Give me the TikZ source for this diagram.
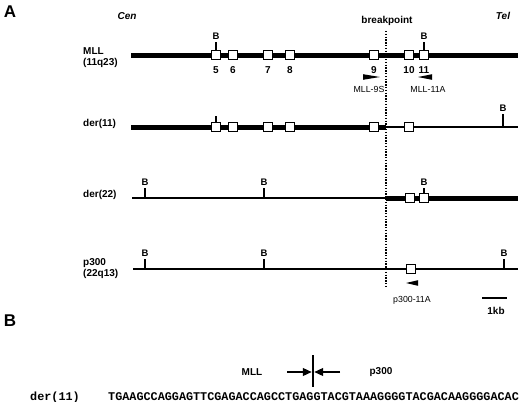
\documentclass[tikz,border=0pt]{standalone}
\usepackage{fontspec}
\setmainfont{Liberation Sans}
\setsansfont{Liberation Sans}
\setmonofont{Liberation Mono}
\usepackage{tikz}
\usetikzlibrary{arrows.meta,positioning}
\tikzset{
  gm diagram/.style={font=\sffamily\bfseries\fontsize{10}{11}\selectfont,
    x=1pt, y=-1pt, line cap=butt, line join=miter},
  gm thick/.style={line width=5pt},
  gm thin/.style={line width=2.2pt},
  gm exon/.style={draw, fill=white, line width=1.8pt, minimum size=9pt,
    inner sep=0pt},
  gm tick/.style={line width=2.2pt},
  gm site/.style={font=\sffamily\bfseries\fontsize{9.5}{10}\selectfont,
    inner sep=1pt, anchor=south},
  gm name/.style={align=left, anchor=west, inner sep=0pt},
  gm primer/.style={font=\sffamily\fontsize{8.8}{10}\selectfont},
  gm panel/.style={font=\sffamily\bfseries\fontsize{17}{18}\selectfont},
  gm break/.style={line width=2.2pt, dash pattern=on 1.4pt off 1.4pt},
  gm seq/.style={font=\ttfamily\bfseries\fontsize{11.8}{12}\selectfont,
    anchor=west, inner sep=0pt},
  gm junction/.style={line width=2.2pt, -{Triangle[length=9pt,width=7.5pt]}}
}

\begin{document}
\begin{tikzpicture}[gm diagram]
\useasboundingbox (0,0) rectangle (520,402);
% panel A: restriction maps
\node[gm panel] (panA) at (10,12) {A};
\node[font=\sffamily\bfseries\itshape\fontsize{10}{11}\selectfont] (cen) at (127,16) {Cen};
\node[font=\sffamily\bfseries\itshape\fontsize{10}{11}\selectfont] (tel) at (503,16) {Tel};
\node (bp) at (387,21) {breakpoint};
\coordinate (bpTop) at (386,31);
\coordinate (bpBot) at (386,288);

% MLL (11q23)
\node[gm name] (nMLL) at (83,58) {MLL\\(11q23)};
\coordinate (mllL) at (131,55);
\coordinate (mllR) at (518,55);
\draw[gm thick] (mllL) -- (mllR);

% der(11)
\node[gm name] (nDer11) at (83,124) {der(11)};
\coordinate (d11L) at (131,127);
\coordinate (d11M) at (386,127);
\coordinate (d11R) at (518,127);
\draw[gm thick] (d11L) -- (d11M);
\draw[gm thin] (d11M) -- (d11R);

% der(22)
\node[gm name] (nDer22) at (83,195) {der(22)};
\coordinate (d22L) at (132,198);
\coordinate (d22M) at (386,198);
\coordinate (d22R) at (518,198);
\draw[gm thin] (d22L) -- (d22M);
\draw[gm thick] (d22M) -- (d22R);

% p300 (22q13)
\node[gm name] (nP300) at (83,269) {p300\\(22q13)};
\coordinate (pL) at (133,269);
\coordinate (pR) at (518,269);
\draw[gm thin] (pL) -- (pR);

\draw[gm break] (bpTop) -- (bpBot);

% exons
\foreach \n/\x in {5/216,6/233,7/268,8/290,9/374,10/409,11/424} {
  \node[gm exon] (m\n) at (\x,55) {};
  \node (num\n) at (\x,70) {\n};
}
\foreach \n/\x in {5/216,6/233,7/268,8/290,9/374,10/409}
  \node[gm exon] (d\n) at (\x,127) {};
\foreach \n/\x in {10/410,11/424}
  \node[gm exon] (e\n) at (\x,198) {};
\node[gm exon] (p11) at (411,269) {};

% BamHI sites
\draw[gm tick] (m5.north) -- ++(0,-8) node[gm site] (bM1) {B};
\draw[gm tick] (m11.north) -- ++(0,-8) node[gm site] (bM2) {B};
\draw[gm tick] (d5.north) -- ++(0,-6);
\draw[gm tick] (503,127) -- ++(0,-13) node[gm site] (bD1) {B};
\draw[gm tick] (145,198) -- ++(0,-10) node[gm site] (bE1) {B};
\draw[gm tick] (264,198) -- ++(0,-10) node[gm site] (bE2) {B};
\draw[gm tick] (e11.north) -- ++(0,-5) node[gm site] (bE3) {B};
\foreach \x [count=\i] in {145,264,504}
  \draw[gm tick] (\x,269) -- ++(0,-10) node[gm site] (bP\i) {B};

% primers
\fill (363,74.2) -- (380,77) -- (363,79.8) -- cycle;
\node[gm primer] (pr9S) at (369,89) {MLL-9S};
\fill (432,74.2) -- (418,77) -- (432,79.8) -- cycle;
\node[gm primer] (pr11A) at (428,89) {MLL-11A};
\fill (418,280.2) -- (406,283) -- (418,285.8) -- cycle;
\node[gm primer] (prP) at (412,300) {p300-11A};

% scale bar
\coordinate (sbL) at (482,298);
\coordinate (sbR) at (507,298);
\draw[line width=2.6pt] (sbL) -- (sbR);
\node (kb) at (496,311) {1kb};

% panel B: junction sequence
\node[gm panel] (panB) at (10,321) {B};
\coordinate (jTop) at (313,355);
\coordinate (jBot) at (313,387);
\draw[gm tick] (jTop) -- (jBot);
\coordinate (aL) at (287,372);
\coordinate (aR) at (340,372);
\draw[gm junction] (aL) -- ([xshift=-1.1pt]jTop |- aL);
\draw[gm junction] (aR) -- ([xshift=1.1pt]jTop |- aR);
\node (jMLL) at (252,372) {MLL};
\node (jP300) at (381,372) {p300};
\node[gm seq] (sName) at (30,397) {der(11)};
\node[gm seq] (sSeq) at (108,397) {TGAAGCCAGGAGTTCGAGACCAGCCTGAGGTACGTAAAGGGGTACGACAAGGGGACAC};
\end{tikzpicture}
\end{document}
